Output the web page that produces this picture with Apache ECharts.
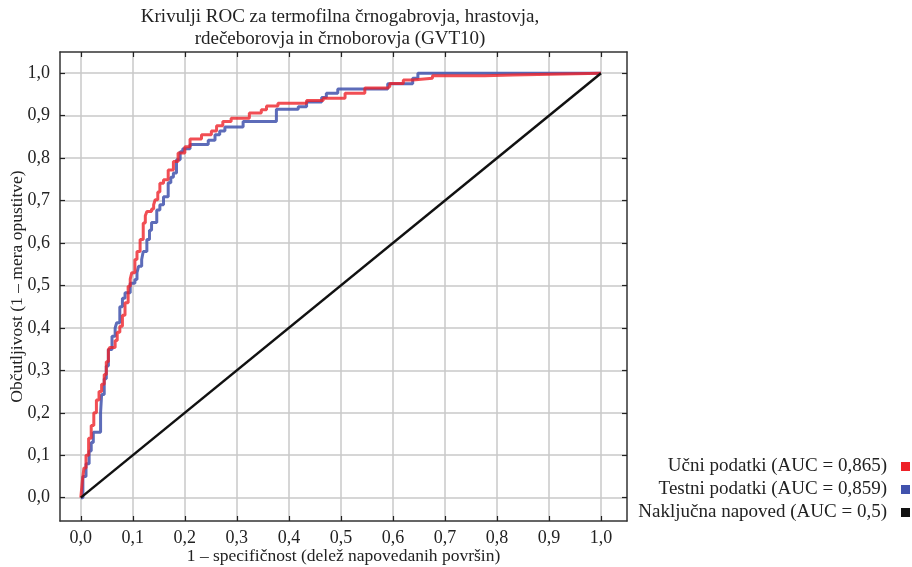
<!DOCTYPE html>
<html>
<head>
<meta charset="utf-8">
<script src="https://cdn.jsdelivr.net/npm/echarts@6/dist/echarts.min.js"></script>
<style>html,body{margin:0;padding:0;background:#fff;}#c{width:912px;height:567px;}</style>
</head>
<body>
<div id="c"></div>
<script>
// Tick values and labels
const tickValues = [0,0.1,0.2,0.3,0.4,0.5,0.6,0.7,0.8,0.9,1.0];
const tickLabels = ['0,0','0,1','0,2','0,3','0,4','0,5','0,6','0,7','0,8','0,9','1,0'];

// Series names
const nameTrain = 'Učni podatki (AUC = 0,865)';
const nameTest = 'Testni podatki (AUC = 0,859)';
const nameRandom = 'Naključna napoved (AUC = 0,5)';

// ROC curves: [1 - specificity, sensitivity], left end of each flat step
const testROC = [[0,0],[0.004,0.05],[0.01,0.08],[0.016,0.11],[0.02,0.13],[0.024,0.154],[0.038,0.2],[0.04,0.243],[0.045,0.28],[0.049,0.31],[0.053,0.349],[0.06,0.38],[0.066,0.40],[0.069,0.412],[0.075,0.45],[0.08,0.47],[0.085,0.483],[0.095,0.505],[0.104,0.514],[0.108,0.53],[0.111,0.545],[0.117,0.561],[0.12,0.58],[0.127,0.608],[0.132,0.63],[0.136,0.648],[0.146,0.678],[0.152,0.69],[0.159,0.709],[0.168,0.742],[0.173,0.755],[0.178,0.765],[0.184,0.796],[0.191,0.815],[0.196,0.822],[0.21,0.832],[0.245,0.842],[0.258,0.855],[0.267,0.864],[0.277,0.873],[0.312,0.886],[0.376,0.915],[0.418,0.921],[0.434,0.932],[0.463,0.943],[0.472,0.953],[0.494,0.963],[0.59,0.975],[0.638,0.988],[0.648,1.0],[1,1]];
const trainROC = [[0,0],[0.003,0.04],[0.006,0.07],[0.01,0.1],[0.015,0.14],[0.02,0.17],[0.025,0.2],[0.03,0.23],[0.035,0.25],[0.04,0.267],[0.045,0.29],[0.049,0.32],[0.053,0.349],[0.056,0.354],[0.066,0.37],[0.07,0.39],[0.075,0.404],[0.08,0.43],[0.085,0.459],[0.091,0.498],[0.095,0.515],[0.098,0.53],[0.104,0.561],[0.108,0.58],[0.114,0.608],[0.12,0.647],[0.124,0.664],[0.127,0.674],[0.136,0.68],[0.14,0.69],[0.143,0.702],[0.148,0.72],[0.152,0.741],[0.159,0.749],[0.168,0.772],[0.178,0.792],[0.187,0.812],[0.2,0.827],[0.21,0.845],[0.232,0.855],[0.251,0.864],[0.261,0.876],[0.273,0.886],[0.289,0.894],[0.324,0.906],[0.347,0.914],[0.357,0.923],[0.379,0.929],[0.434,0.936],[0.466,0.941],[0.508,0.953],[0.546,0.965],[0.59,0.969],[0.594,0.976],[0.62,0.984],[0.638,0.988],[0.676,0.994],[0.776,0.996],[0.83,1.0],[1,1]];
const randomROC = [[0,0],[1,1]];

const FONT = '"Liberation Serif", "DejaVu Serif", serif';
const chart = echarts.init(document.getElementById('c'), null, {renderer:'canvas'});
const fmt = v => { const i = tickValues.findIndex(t => Math.abs(t - v) < 1e-6); return i >= 0 ? tickLabels[i] : ''; };
const frameLine = {show:true, onZero:false, lineStyle:{color:'#333', width:1.5}};
const tick = {show:true, inside:true, length:5, customValues: tickValues, lineStyle:{color:'#222', width:1.2}};
const split = {show:true, lineStyle:{color:'#c8c8c8', width:1.5}};

chart.setOption({
  animation:false,
  backgroundColor:'#fff',
  title:{
    text:'Krivulji ROC za termofilna črnogabrovja, hrastovja,\nrdečeborovja in črnoborovja (GVT10)',
    left:340, top:6, textAlign:'center', padding:0,
    textStyle:{fontFamily:FONT, fontWeight:'normal', fontSize:19, lineHeight:22, color:'#222'}
  },
  legend:{
    orient:'vertical', right:2, top:455, align:'right', itemGap:0, padding:0,
    itemWidth:9, itemHeight:9, icon:'rect',
    textStyle:{fontFamily:FONT, fontSize:19, lineHeight:23, color:'#222', padding:[0,9,0,0]},
    data:[nameTrain, nameTest, nameRandom]
  },
  grid:{left:60, right:285, top:52, bottom:46, outerBoundsMode:'none', containLabel:false},
  xAxis:[{
    type:'value', min:-0.04, max:1.05, position:'bottom',
    name:'1 – specifičnost (delež napovedanih površin)', nameLocation:'middle', nameGap:26, nameMoveOverlap:false,
    nameTextStyle:{fontFamily:FONT, fontSize:17.5, color:'#222'},
    axisLine:frameLine, axisTick:tick, splitLine:split,
    axisLabel:{customValues:tickValues, formatter:fmt, margin:8, fontFamily:FONT, fontSize:18, color:'#222'}
  },{
    type:'value', min:-0.04, max:1.05, position:'top',
    axisLine:frameLine, axisTick:tick, splitLine:{show:false}, axisLabel:{show:false}
  }],
  yAxis:[{
    type:'value', min:-0.055, max:1.05, position:'left',
    name:'Občutljivost (1 – mera opustitve)', nameLocation:'middle', nameGap:34, nameMoveOverlap:false,
    nameTextStyle:{fontFamily:FONT, fontSize:17.5, color:'#222'},
    axisLine:frameLine, axisTick:tick, splitLine:split,
    axisLabel:{customValues:tickValues, formatter:fmt, margin:10, fontFamily:FONT, fontSize:18, color:'#222'}
  },{
    type:'value', min:-0.055, max:1.05, position:'right',
    axisLine:frameLine, axisTick:tick, splitLine:{show:false}, axisLabel:{show:false}
  }],
  series:[
    {name:nameTest, type:'line', step:'end', data:testROC, showSymbol:false, symbol:'none',
     color:'#4152ad', lineStyle:{color:'#4152ad', width:3, opacity:0.85}, z:3},
    {name:nameTrain, type:'line', step:'end', data:trainROC, showSymbol:false, symbol:'none',
     color:'#ee2229', lineStyle:{color:'#ee2229', width:3, opacity:0.8}, z:4},
    {name:nameRandom, type:'line', data:randomROC, showSymbol:false, symbol:'none',
     color:'#111', lineStyle:{color:'#111', width:2.5}, z:5}
  ]
});
</script>
</body>
</html>
